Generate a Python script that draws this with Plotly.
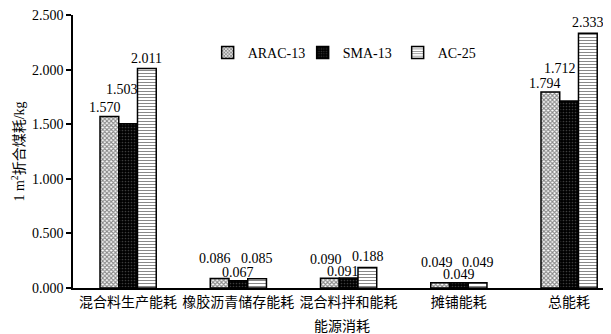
import plotly.graph_objects as go

categories = ["混合料生产能耗", "橡胶沥青储存能耗", "混合料拌和能耗", "摊铺能耗", "总能耗"]
series_names = ["ARAC-13", "SMA-13", "AC-25"]
arac13 = [1.570, 0.086, 0.090, 0.049, 1.794]
sma13 = [1.503, 0.067, 0.091, 0.049, 1.712]
ac25 = [2.011, 0.085, 0.188, 0.049, 2.333]
y_ticks = [0.0, 0.5, 1.0, 1.5, 2.0, 2.5]
y_title = "1 m<sup>2</sup>折合煤耗/kg"
x_title = "能源消耗"

# styling (label offsets in px, per series)
label_dx = [[-4, -5, -4, -3, -5], [-6, 0, -6, 0, -9], [0, 0, 1, 0, 0]]
label_dy = [[9, 20, 19, 20, 9], [34, 8, 7, 8, 33], [10, 20, 11, 20, 11]]
bar_px = 18.7

patterns = [
    dict(shape="x", fgcolor="#111111", bgcolor="white", size=3, solidity=0.6),
    dict(shape=".", fgcolor="#777777", bgcolor="black", size=3, solidity=0.25),
    dict(shape="-", fgcolor="#111111", bgcolor="white", size=3, solidity=0.35),
]

FONT = "Liberation Serif, Noto Sans CJK SC, serif"
FS = 14

fig = go.Figure()
all_vals = [arac13, sma13, ac25]
for i, (name, vals) in enumerate(zip(series_names, all_vals)):
    fig.add_trace(go.Bar(
        x=categories, y=vals, name=name,
        marker=dict(color="white" if i != 1 else "black",
                    line=dict(color="black", width=1.5),
                    pattern=patterns[i]),
    ))
    for j, v in enumerate(vals):
        fig.add_annotation(
            x=categories[j], y=v, text=f"{v:.3f}", showarrow=False,
            xshift=(i - 1) * bar_px + label_dx[i][j], yshift=label_dy[i][j],
            yanchor="middle", xanchor="center",
            font=dict(family=FONT, size=FS, color="black"),
        )

# page body has an 8px default margin, so the figure is sized to fit the window
fig.update_layout(
    width=603, height=326,
    margin=dict(l=65, r=0, t=7, b=46, autoexpand=False),
    plot_bgcolor="white", paper_bgcolor="white",
    barmode="group", bargap=0.49, bargroupgap=0,
    font=dict(family=FONT, size=FS, color="black"),
    showlegend=True,
    legend=dict(orientation="h", x=0.2503, y=0.861, xanchor="left", yanchor="middle",
                font=dict(family=FONT, size=FS, color="black"),
                bgcolor="rgba(0,0,0,0)", itemwidth=30, entrywidth=50,
                traceorder="normal"),
    xaxis=dict(
        range=[-0.5, 4.38], showline=True, linecolor="black", linewidth=1.5,
        ticks="", showgrid=False, zeroline=False, automargin=False,
        ticklabeloverflow="allow",
        tickfont=dict(family=FONT, size=FS, color="black"),
        title=dict(text=x_title, font=dict(family=FONT, size=FS, color="black"), standoff=21),
    ),
    yaxis=dict(
        range=[0, 2.5], tickvals=y_ticks, tickformat=".3f",
        showline=True, linecolor="black", linewidth=1.5,
        ticks="outside", ticklen=5, tickcolor="black", tickwidth=1.5,
        showgrid=False, zeroline=False, automargin=False,
        ticklabeloverflow="allow",
        tickfont=dict(family=FONT, size=FS, color="black"),
        title=dict(text=y_title, font=dict(family=FONT, size=FS, color="black"), standoff=4),
    ),
)

fig.write_html("out.html")
